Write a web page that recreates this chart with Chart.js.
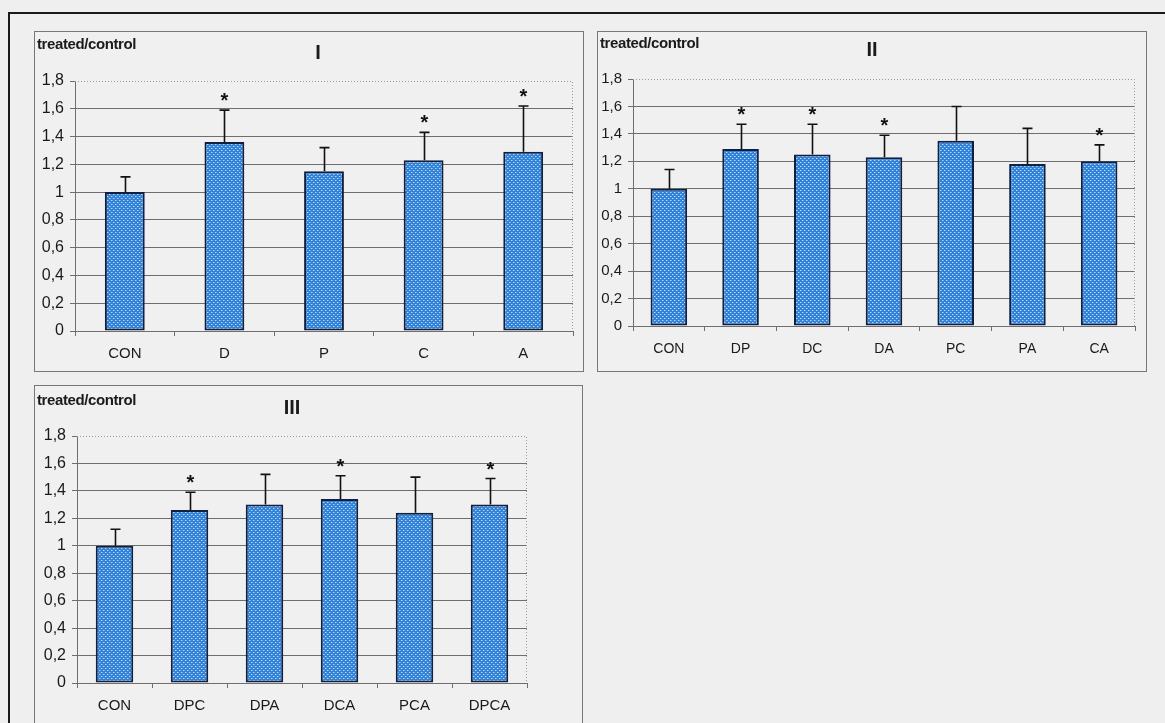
<!DOCTYPE html>
<html>
<head>
<meta charset="utf-8">
<script src="https://cdn.jsdelivr.net/npm/chart.js@4.4.0/dist/chart.umd.min.js"></script>
<style>
  html, body { margin: 0; padding: 0; }
  body {
    width: 1165px; height: 723px; overflow: hidden; position: relative;
    background: #efefef; font-family: "Liberation Sans", Arial, sans-serif; color: #1a1a1a;
  }
  .frame-top { position: absolute; left: 8px; top: 12px; width: 1157px; height: 2px; background: #1a1a1a; }
  .frame-left { position: absolute; left: 8px; top: 12px; width: 2px; height: 711px; background: #1a1a1a; }
  .panel { position: absolute; border: 1px solid #777; background: #f0f0f0; }
  .panel canvas { position: absolute; left: 0; top: 0; }
  .ylab { position: absolute; font-weight: bold; font-size: 15px; line-height: 15px; letter-spacing: -0.4px; white-space: nowrap; }
  .num { position: absolute; font-weight: bold; font-size: 20px; line-height: 20px; transform: translateX(-50%); white-space: nowrap; }
</style>
</head>
<body>
<div class="frame-top"></div>
<div class="frame-left"></div>

<div class="panel" style="left:34px; top:31px; width:548px; height:339px;">
  <canvas id="chartI" width="548" height="339"></canvas>
  <div class="ylab" style="left:2px; top:4px;">treated/control</div>
  <div class="num" style="left:283px; top:10px;">I</div>
</div>

<div class="panel" style="left:597px; top:31px; width:548px; height:339px;">
  <canvas id="chartII" width="548" height="339"></canvas>
  <div class="ylab" style="left:2px; top:3px;">treated/control</div>
  <div class="num" style="left:274px; top:7px;">II</div>
</div>

<div class="panel" style="left:34px; top:385px; width:547px; height:345px;">
  <canvas id="chartIII" width="547" height="337"></canvas>
  <div class="ylab" style="left:2px; top:6px;">treated/control</div>
  <div class="num" style="left:257px; top:11px;">III</div>
</div>

<script>
// y axis labels (decimal comma)
const yTicks = ['0', '0,2', '0,4', '0,6', '0,8', '1', '1,2', '1,4', '1,6', '1,8'];

// panel I - single treatments
const labelsI = ['CON', 'D', 'P', 'C', 'A'];
const meanI = [1.00, 1.36, 1.15, 1.23, 1.29];
const errI = [0.11, 0.23, 0.17, 0.20, 0.33];
const starI = [false, true, false, true, true];

// panel II - pairs
const labelsII = ['CON', 'DP', 'DC', 'DA', 'PC', 'PA', 'CA'];
const meanII = [1.00, 1.29, 1.25, 1.23, 1.35, 1.18, 1.20];
const errII = [0.14, 0.18, 0.22, 0.16, 0.25, 0.26, 0.12];
const starII = [false, true, true, true, false, false, true];

// panel III - triples and all four
const labelsIII = ['CON', 'DPC', 'DPA', 'DCA', 'PCA', 'DPCA'];
const meanIII = [1.00, 1.26, 1.30, 1.34, 1.24, 1.30];
const errIII = [0.12, 0.13, 0.22, 0.17, 0.26, 0.19];
const starIII = [false, true, false, true, false, true];

const FONT = '"Liberation Sans", Arial, sans-serif';
const GRID = '#6e6e6e';

// dotted blue fill used by the bars
function dotPattern() {
  const c = document.createElement('canvas');
  c.width = 4; c.height = 4;
  const g = c.getContext('2d');
  g.fillStyle = '#3482d6';
  g.fillRect(0, 0, 4, 4);
  g.fillStyle = '#b3daf8';
  g.fillRect(0, 0, 1, 1);
  g.fillRect(2, 2, 1, 1);
  g.fillStyle = '#69abea';
  g.fillRect(1, 0, 1, 1);
  g.fillRect(3, 2, 1, 1);
  return g.createPattern(c, 'repeat');
}

// upper error whiskers, significance stars and the dotted plot frame
function overlay(err, stars) {
  return {
    id: 'overlay',
    afterDatasetsDraw(chart) {
      const { ctx, chartArea, scales } = chart;
      const y = scales.y;
      const meta = chart.getDatasetMeta(0);
      const data = chart.data.datasets[0].data;

      ctx.save();
      ctx.strokeStyle = '#9a9a9a';
      ctx.lineWidth = 1;
      ctx.setLineDash([1, 2]);
      ctx.beginPath();
      ctx.moveTo(chartArea.left, chartArea.top + 0.5);
      ctx.lineTo(chartArea.right - 0.5, chartArea.top + 0.5);
      ctx.lineTo(chartArea.right - 0.5, chartArea.bottom);
      ctx.stroke();
      ctx.setLineDash([]);

      meta.data.forEach((bar, i) => {
        const top = y.getPixelForValue(data[i]);
        const hi = y.getPixelForValue(data[i] + err[i]);
        const x = Math.round(bar.x) + 0.5;
        ctx.strokeStyle = '#111';
        ctx.lineWidth = 1.6;
        ctx.beginPath();
        ctx.moveTo(x, top);
        ctx.lineTo(x, hi);
        ctx.moveTo(x - 5, hi);
        ctx.lineTo(x + 5, hi);
        ctx.stroke();
        if (stars[i]) {
          ctx.fillStyle = '#111';
          ctx.font = 'bold 20px ' + FONT;
          ctx.textAlign = 'center';
          ctx.textBaseline = 'alphabetic';
          ctx.fillText('*', x, hi - 3);
        }
      });
      ctx.restore();
    }
  };
}

function drawPanel(id, labels, means, err, stars, box) {
  const canvas = document.getElementById(id);
  return new Chart(canvas, {
    type: 'bar',
    data: {
      labels: labels,
      datasets: [{
        data: means,
        backgroundColor: dotPattern(),
        borderColor: '#111f40',
        borderWidth: 2,
        borderSkipped: false,
        barPercentage: box.barPct,
        categoryPercentage: 1
      }]
    },
    options: {
      responsive: false,
      animation: false,
      devicePixelRatio: 1,
      layout: { padding: { left: 0, top: box.top, right: box.right, bottom: 0 } },
      plugins: { legend: { display: false }, tooltip: { enabled: false } },
      scales: {
        x: {
          offset: true,
          grid: { drawOnChartArea: false, offset: true, tickLength: 5, color: GRID },
          border: { color: GRID },
          ticks: { color: '#1a1a1a', padding: box.xPad, font: { family: FONT, size: box.xFont } },
          afterFit: s => { s.height = box.xh; }
        },
        y: {
          min: 0,
          max: 1.8,
          grid: {
            tickLength: 5,
            tickColor: GRID,
            color: c => (c.tick && c.tick.value > 1.79 ? 'rgba(0,0,0,0)' : GRID)
          },
          border: { color: GRID },
          ticks: {
            stepSize: 0.2,
            padding: 6,
            color: '#1a1a1a',
            font: { family: FONT, size: box.yFont },
            callback: v => yTicks[Math.round(v / 0.2)]
          },
          afterFit: s => { s.width = box.yw; }
        }
      }
    },
    plugins: [overlay(err, stars)]
  });
}

drawPanel('chartI', labelsI, meanI, errI, starI,
  { top: 49, right: 10, yw: 40, xh: 40, barPct: 0.4, xFont: 15, yFont: 16, xPad: 9 });
drawPanel('chartII', labelsII, meanII, errII, starII,
  { top: 47, right: 11, yw: 35, xh: 45, barPct: 0.51, xFont: 14, yFont: 15, xPad: 10 });
drawPanel('chartIII', labelsIII, meanIII, errIII, starIII,
  { top: 50, right: 55, yw: 42, xh: 40, barPct: 0.5, xFont: 15, yFont: 16, xPad: 9 });
</script>
</body>
</html>
